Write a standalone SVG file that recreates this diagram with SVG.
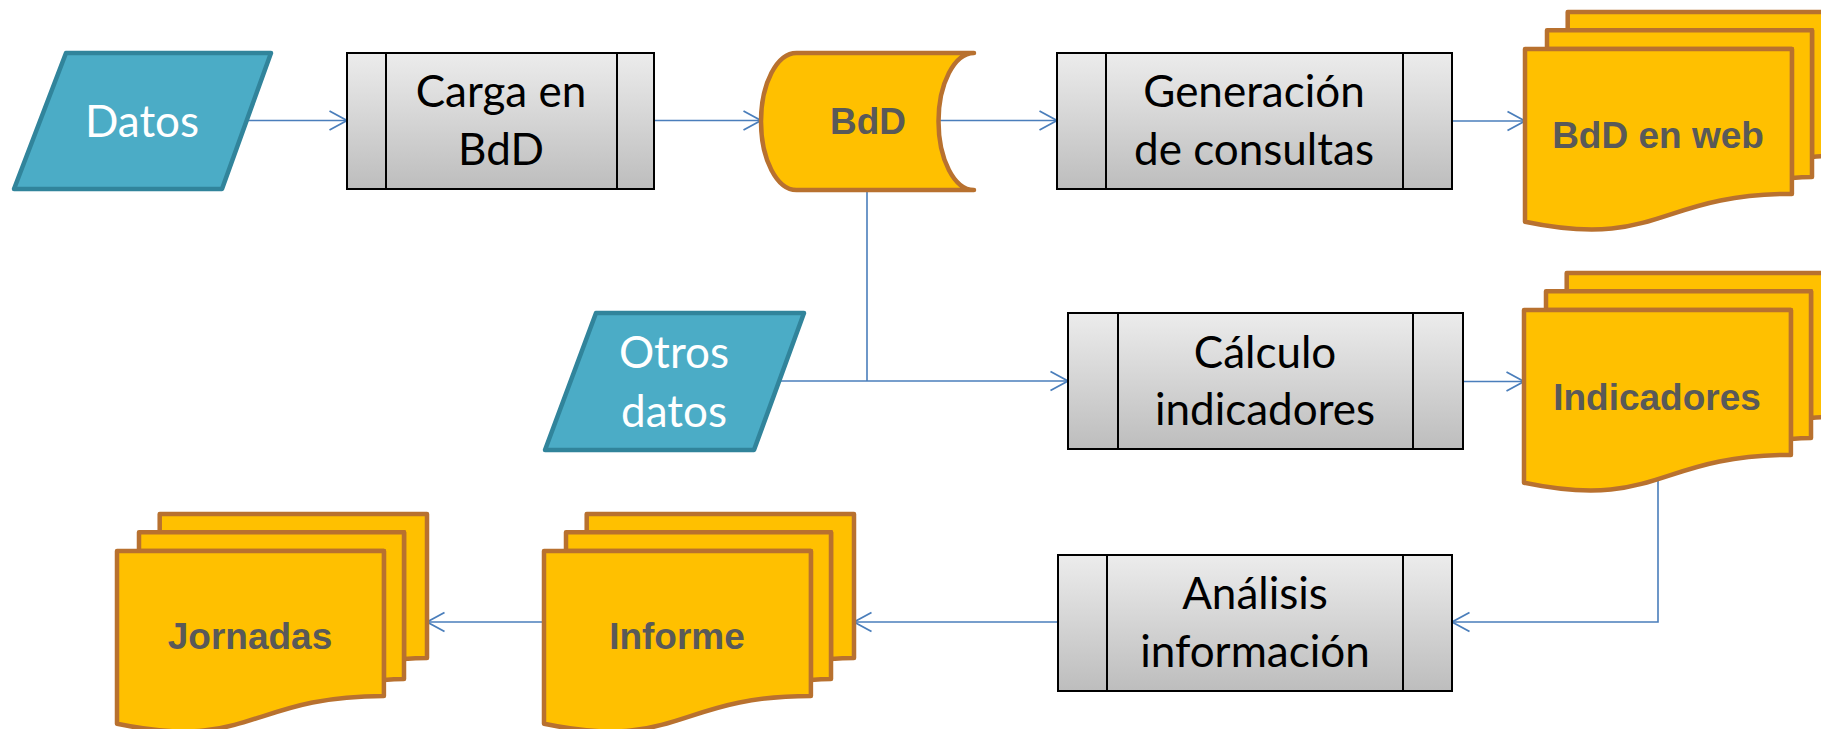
<svg xmlns="http://www.w3.org/2000/svg" width="1821" height="729" viewBox="0 0 1821 729">
<defs>
<style>
.conn{fill:none;stroke:#4a7ebb;stroke-width:1.6}
.para{fill:#4bacc6;stroke:#31849b;stroke-width:4.5;stroke-linejoin:round}
.box{fill:url(#gg);stroke:#000;stroke-width:2}
.bar{stroke:#000;stroke-width:2}
.doc{fill:#ffc000;stroke:#b8712f;stroke-width:4.5;stroke-linejoin:round}
.t{font-family:Lato,"Liberation Sans",sans-serif;font-size:44px;text-anchor:middle;fill:#000}
.tw{font-family:Lato,"Liberation Sans",sans-serif;font-size:44px;text-anchor:middle;fill:#fff}
.tb{font-family:"Liberation Sans",Arial,sans-serif;font-weight:bold;font-size:37px;text-anchor:middle;fill:#595959}
</style>
<linearGradient id="gg" x1="0" y1="0" x2="0" y2="1">
<stop offset="0" stop-color="#ececec"/>
<stop offset="1" stop-color="#bdbdbd"/>
</linearGradient>
<marker id="arr" markerUnits="userSpaceOnUse" markerWidth="22" markerHeight="22" refX="18" refY="10" orient="auto" overflow="visible">
<path d="M0.5,0.5 L18,10 L0.5,19.5" fill="none" stroke="#4a7ebb" stroke-width="1.8"/>
</marker>
<g id="md">
<path class="doc" d="M42.7,0 H310 V144 C298.5,144 287,145 287,145 V18.3 H42.7 Z"/>
<path class="doc" d="M22,18.3 H287 V164.9 C277,164.9 266.9,166 266.9,166 V37.1 H22 Z"/>
<path class="doc" d="M0,37.1 H266.9 V181.9 C133.4,181.9 133.4,237.6 0,209.8 Z"/>
</g>
</defs>

<g id="connectors">
<path class="conn" d="M247,120.5 H347" marker-end="url(#arr)"/>
<path class="conn" d="M654,120.5 H761" marker-end="url(#arr)"/>
<path class="conn" d="M937,120.5 H1057" marker-end="url(#arr)"/>
<path class="conn" d="M1452,121 H1525" marker-end="url(#arr)"/>
<path class="conn" d="M867,191 V381"/>
<path class="conn" d="M780,381 H1068" marker-end="url(#arr)"/>
<path class="conn" d="M1463,381.5 H1524" marker-end="url(#arr)"/>
<path class="conn" d="M1658,476 V622 H1452" marker-end="url(#arr)"/>
<path class="conn" d="M1058,622 H854" marker-end="url(#arr)"/>
<path class="conn" d="M544,622 H427" marker-end="url(#arr)"/>
</g>

<g id="datos">
<polygon class="para" points="66,53 271,53 222,189 14,189"/>
<text class="tw" x="142" y="137">Datos</text>
</g>

<g id="carga">
<rect class="box" x="347" y="53" width="307" height="136"/>
<line class="bar" x1="386" y1="53" x2="386" y2="189"/>
<line class="bar" x1="617" y1="53" x2="617" y2="189"/>
<text class="t" x="501" y="107">Carga en</text>
<text class="t" x="501" y="165">BdD</text>
</g>

<g id="bdd">
<path class="doc" d="M796.5,53 H974 C954.4,53 938.5,83.7 938.5,121.5 C938.5,159.3 954.4,190 974,190 H796.5 C776.9,190 761,159.3 761,121.5 C761,83.7 776.9,53 796.5,53 Z"/>
<text class="tb" x="868" y="134">BdD</text>
</g>

<g id="generacion">
<rect class="box" x="1057" y="53" width="395" height="136"/>
<line class="bar" x1="1106" y1="53" x2="1106" y2="189"/>
<line class="bar" x1="1403" y1="53" x2="1403" y2="189"/>
<text class="t" x="1254" y="107">Generación</text>
<text class="t" x="1254" y="165">de consultas</text>
</g>

<g id="bdd-web">
<use href="#md" x="1525" y="12"/>
<text class="tb" x="1658" y="148">BdD en web</text>
</g>

<g id="otros">
<polygon class="para" points="596,313 804,313 754,450 545,450"/>
<text class="tw" x="674" y="368">Otros</text>
<text class="tw" x="674" y="427">datos</text>
</g>

<g id="calculo">
<rect class="box" x="1068" y="313" width="395" height="136"/>
<line class="bar" x1="1118" y1="313" x2="1118" y2="449"/>
<line class="bar" x1="1413" y1="313" x2="1413" y2="449"/>
<text class="t" x="1265" y="368">Cálculo</text>
<text class="t" x="1265" y="425">indicadores</text>
</g>

<g id="indicadores">
<use href="#md" x="1524" y="273"/>
<text class="tb" x="1657" y="410">Indicadores</text>
</g>

<g id="analisis">
<rect class="box" x="1058" y="555" width="394" height="136"/>
<line class="bar" x1="1107" y1="555" x2="1107" y2="691"/>
<line class="bar" x1="1403" y1="555" x2="1403" y2="691"/>
<text class="t" x="1255" y="609">Análisis</text>
<text class="t" x="1255" y="667">información</text>
</g>

<g id="informe">
<use href="#md" x="544" y="514"/>
<text class="tb" x="677" y="649">Informe</text>
</g>

<g id="jornadas">
<use href="#md" x="117" y="514"/>
<text class="tb" x="250" y="649">Jornadas</text>
</g>
</svg>
